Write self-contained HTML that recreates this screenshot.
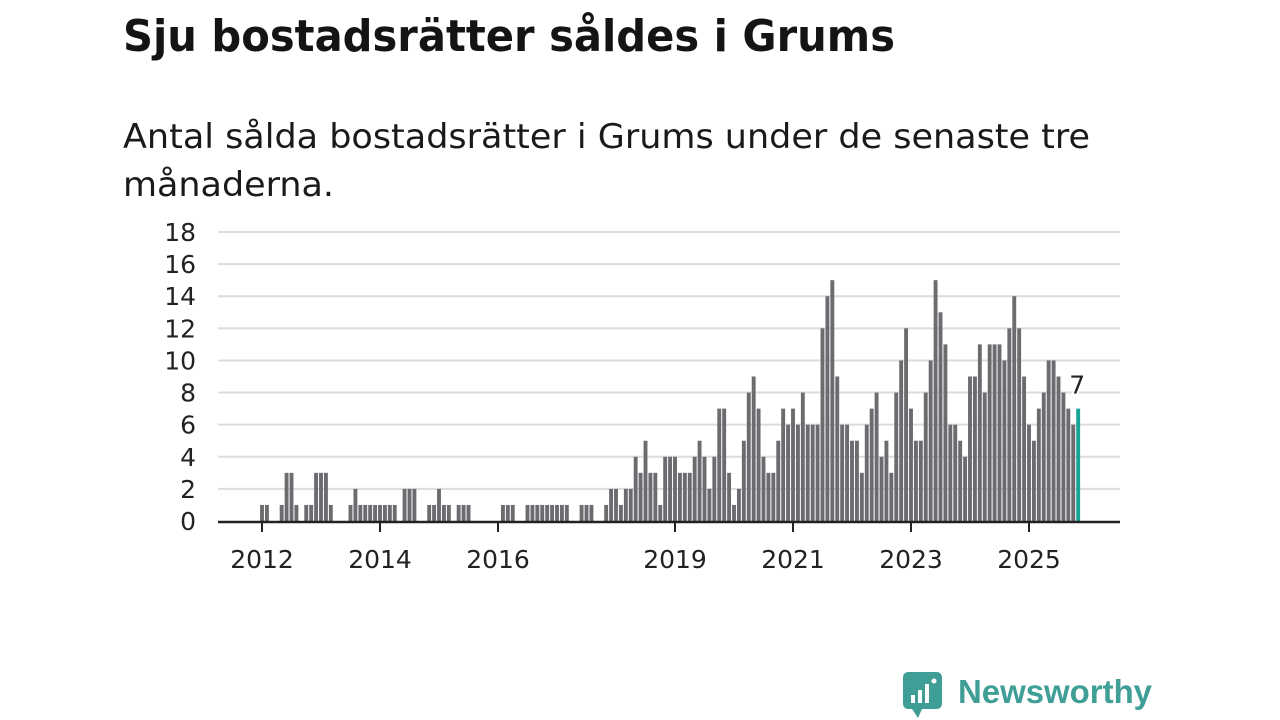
<!DOCTYPE html>
<html lang="sv">
<head>
<meta charset="utf-8">
<style>
  html,body{margin:0;padding:0;background:#fff;}
  body{width:1280px;height:720px;overflow:hidden;position:relative;font-family:"DejaVu Sans","Liberation Sans",sans-serif;color:#1a1a1a;}
  svg{position:absolute;left:0;top:0;}
</style>
</head>
<body>
<svg id="chart" width="1280" height="720">
  <text x="123" y="51" font-size="44" font-weight="bold" fill="#141414" textLength="772" lengthAdjust="spacingAndGlyphs" font-family="DejaVu Sans, sans-serif">Sju bostadsrätter såldes i Grums</text>
  <g>
    <text x="123" y="148" font-size="34" fill="#1a1a1a" textLength="967" lengthAdjust="spacingAndGlyphs" font-family="DejaVu Sans, sans-serif">Antal sålda bostadsrätter i Grums under de senaste tre</text>
    <text x="123" y="196" font-size="34" fill="#1a1a1a" textLength="211" lengthAdjust="spacingAndGlyphs" font-family="DejaVu Sans, sans-serif">månaderna.</text>
  </g>
  <g id="grid"></g>
  <g id="yaxis"></g>
  <g id="bars"></g>
  <g id="xaxis"></g>
  <g id="logo">
    <rect x="903" y="672" width="39" height="37" rx="5" fill="#3f9e96"/>
    <path d="M912 709 L918 718 L922 709 Z" fill="#3f9e96"/>
    <rect x="911" y="695" width="4" height="8" fill="#fff"/>
    <rect x="918" y="690" width="4" height="13" fill="#fff"/>
    <rect x="925" y="684" width="4" height="19" fill="#fff"/>
    <circle cx="934" cy="681" r="2.5" fill="#fff"/>
    <text x="958" y="703" font-size="33" font-weight="bold" fill="#3f9e96" textLength="194" lengthAdjust="spacingAndGlyphs" font-family="Liberation Sans, sans-serif">Newsworthy</text>
  </g>
</svg>
<script>
// Monthly values, index 0 = January 2012
const startYear = 2012;
const values = [
  1,1,0,0,1,3,3,1,0,1,
  1,3,3,3,1,0,0,0,1,2,
  1,1,1,1,1,1,1,1,0,2,
  2,2,0,0,1,1,2,1,1,0,
  1,1,1,0,0,0,0,0,0,1,
  1,1,0,0,1,1,1,1,1,1,
  1,1,1,0,0,1,1,1,0,0,
  1,2,2,1,2,2,4,3,5,3,
  3,1,4,4,4,3,3,3,4,5,
  4,2,4,7,7,3,1,2,5,8,
  9,7,4,3,3,5,7,6,7,6,
  8,6,6,6,12,14,15,9,6,6,
  5,5,3,6,7,8,4,5,3,8,
  10,12,7,5,5,8,10,15,13,11,
  6,6,5,4,9,9,11,8,11,11,
  11,10,12,14,12,9,6,5,7,8,
  10,10,9,8,7,6,7
];
const yTicks = [0,2,4,6,8,10,12,14,16,18];
const xTickYears = [2012,2014,2016,2019,2021,2023,2025];

const NS = "http://www.w3.org/2000/svg";
const plotL = 218, plotR = 1120, y0 = 521, yTop = 232;
const x0 = 262, monthW = 118/24;
function xScale(m){ return x0 + m*monthW; }
function yScale(v){ return y0 - (y0 - yTop) * v / 18; }
function mk(tag, attrs, parent){
  const e = document.createElementNS(NS, tag);
  for (const k in attrs) e.setAttribute(k, attrs[k]);
  parent.appendChild(e);
  return e;
}
const grid = document.getElementById('grid');
const yaxis = document.getElementById('yaxis');
const barsG = document.getElementById('bars');
const xaxis = document.getElementById('xaxis');

yTicks.forEach(t => {
  const y = yScale(t);
  if (t > 0) {
    const l = mk('line', {x1: plotL, x2: plotR, y1: y, y2: y, stroke: '#dcdcdc', 'stroke-width': 2}, grid);
    
    
  }
  const tx = mk('text', {x: 196, y: y + 9, 'text-anchor': 'end', 'font-size': 25, fill: '#222', 'font-family': 'DejaVu Sans, sans-serif'}, yaxis);
  tx.textContent = t;
  
  
});

const bw = 3.9;
values.forEach((v, i) => {
  if (v <= 0) return;
  const last = i === values.length - 1;
  const r = mk('rect', {x: xScale(i) - bw/2, y: yScale(v), width: bw, height: y0 - yScale(v), fill: last ? '#17a398' : '#6b6b70'}, barsG);
  
  
  if (last) {
    const lb = mk('text', {x: xScale(i) - 1, y: yScale(v) - 15, 'text-anchor': 'middle', 'font-size': 25, fill: '#222', stroke: '#fff', 'stroke-width': 4, 'paint-order': 'stroke', 'font-family': 'DejaVu Sans, sans-serif'}, barsG);
    lb.textContent = v;
    
    
  }
});

const axisLine = mk('line', {x1: plotL, x2: plotR, y1: y0 + 1, y2: y0 + 1, stroke: '#222', 'stroke-width': 2.5}, xaxis);


xTickYears.forEach(yr => {
  const x = xScale((yr - startYear) * 12);
  const tk = mk('line', {x1: x, x2: x, y1: y0, y2: y0 + 11, stroke: '#222', 'stroke-width': 2}, xaxis);
  
  
  const tx = mk('text', {x: x, y: 568, 'text-anchor': 'middle', 'font-size': 25, fill: '#222', 'font-family': 'DejaVu Sans, sans-serif'}, xaxis);
  tx.textContent = yr;
  
  
});
</script>
</body>
</html>
